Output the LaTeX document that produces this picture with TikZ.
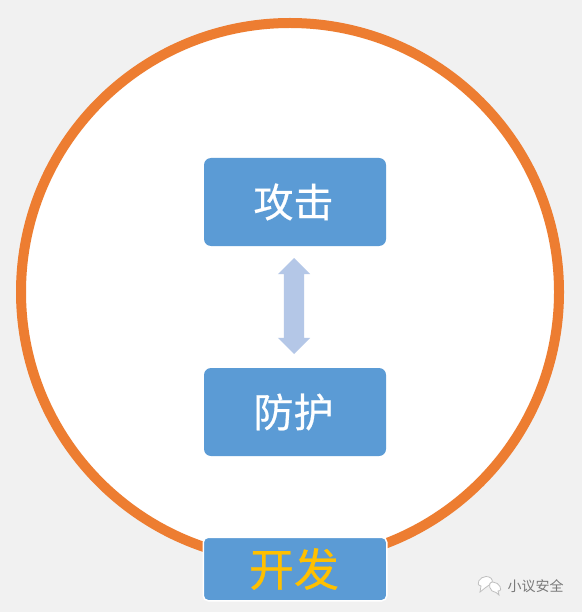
\documentclass[tikz,border=0pt]{standalone}
\usepackage{fontspec}
\usepackage{xcolor}
\usetikzlibrary{shapes.arrows}
\newfontfamily\cjk[FakeBold=0.5]{Noto Sans CJK SC}
\newfontfamily\cjkmark{Noto Sans CJK SC}
\definecolor{pagegray}{HTML}{F1F1F1}
\definecolor{ringorange}{HTML}{ED7D31}
\definecolor{boxblue}{HTML}{5B9BD5}
\definecolor{arrowblue}{HTML}{B4C7E7}
\definecolor{devyellow}{HTML}{FFC000}
\tikzset{
	bluebox/.style={fill=boxblue, rounded corners=7pt, minimum width=182pt, minimum height=88pt, inner sep=0pt, text=white, font=\cjk\fontsize{40}{40}\selectfont},
	markbubble/.style={draw=gray!50, fill=white, line width=0.8pt},
}
\begin{document}
\begin{tikzpicture}[x=1pt, y=-1pt]
	\useasboundingbox (0,0) rectangle (582,612);
	\fill[pagegray] (0,0) rectangle (582,612);
	
	\filldraw[fill=white, draw=ringorange, line width=10pt] (290,292) circle (269pt);
	
	\node[bluebox] (attack) at (295,202) {\hspace*{-3pt}\raisebox{0.5pt}{攻击}};
	\node[bluebox] (defend) at (295,412) {\hspace*{-3pt}\raisebox{0.5pt}{防护}};
	\node[bluebox, draw=white, line width=1.5pt, minimum width=183.5pt, minimum height=63.5pt, text=devyellow, font=\cjk\fontsize{45}{45}\selectfont, rounded corners=5pt] (develop) at (295,569) {\hspace*{-2pt}\raisebox{3pt}{开发}};
	
	\node[fill=arrowblue, double arrow, rotate=90, inner xsep=0pt, inner ysep=10pt, minimum height=96pt, minimum width=32pt, double arrow head extend=6pt] (link) at (294,306) {};
	
	% watermark
	\draw[markbubble] (485,588) -- (480,592) -- (481,586) to[out=170, in=180, looseness=1.5] (486,576.5) to[out=0, in=70, looseness=1.2] (492,583) -- cycle;
	\draw[markbubble] (496,592.5) -- (499,595) -- (498,591) to[out=0, in=0, looseness=1.5] (493,582) to[out=180, in=180, looseness=1.5] cycle;
	\node[text=gray!95!black, inner sep=0pt, font=\cjkmark\fontsize{14}{14}\selectfont] (mark) at (535.5,586) {小议安全};
\end{tikzpicture}
\end{document}
